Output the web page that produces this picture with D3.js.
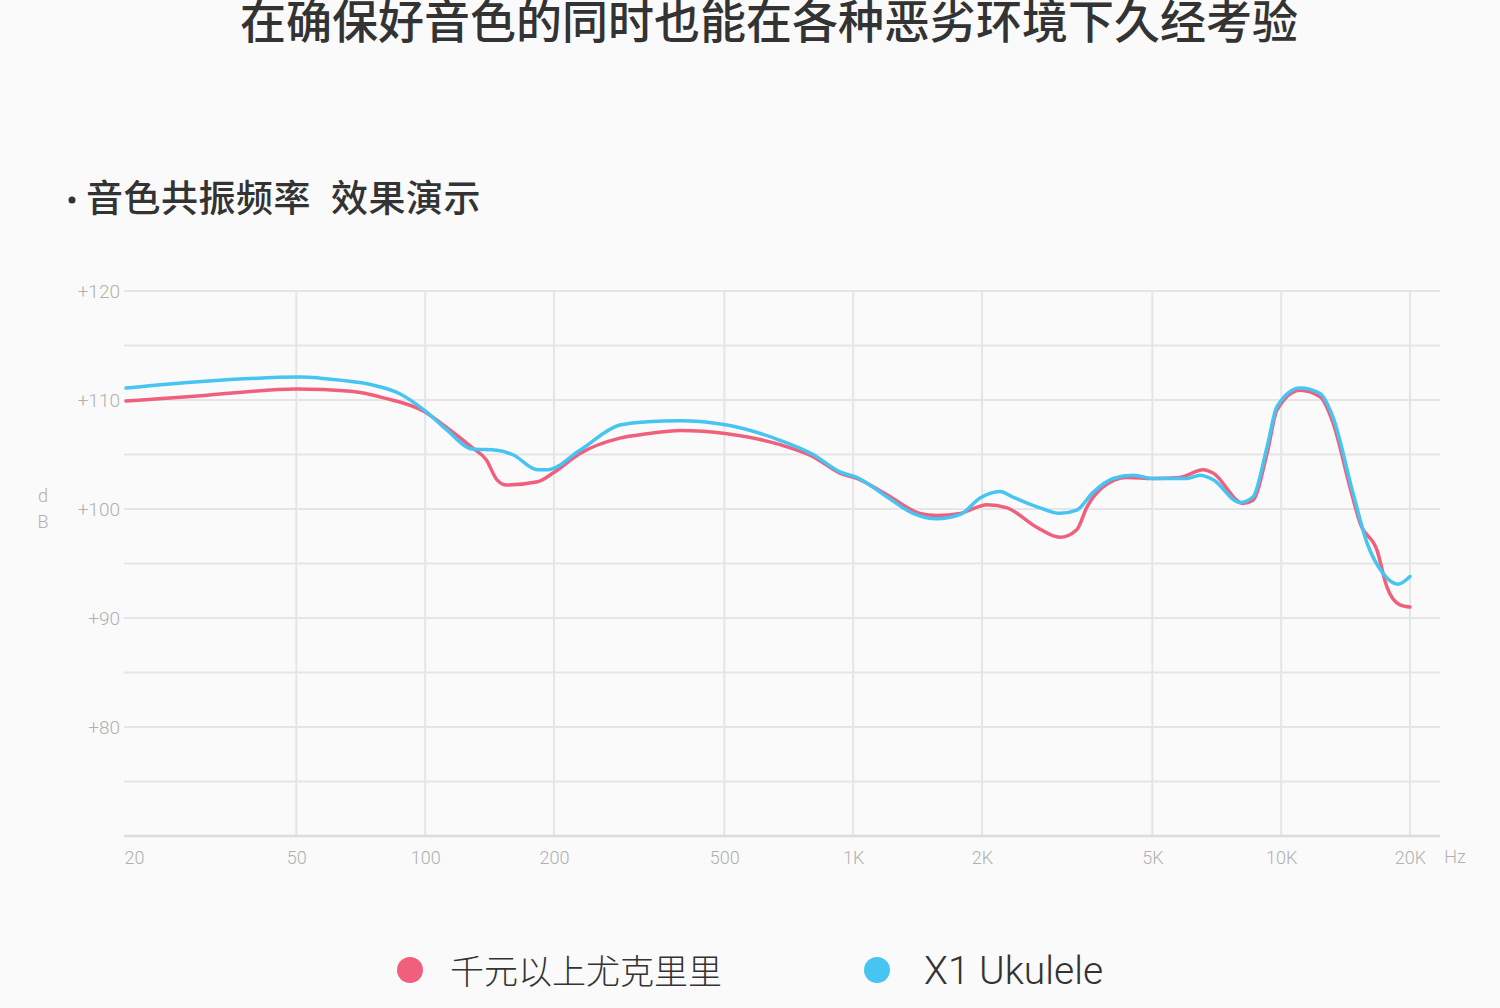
<!DOCTYPE html>
<html lang="zh">
<head>
<meta charset="UTF-8">
<title>音色共振频率 效果演示</title>
<style>
  body { margin: 0; overflow: hidden; background: #fafafa; }
  svg  { display: block; background: #fafafa; }

  .title    { font: 500 46px "Noto Sans CJK SC", sans-serif; fill: #333; text-anchor: middle; }
  .subtitle { font: 500 37px "Noto Sans CJK SC", sans-serif; fill: #333; letter-spacing: 0.5px; }
  .tick text { font: 300 18px Roboto, sans-serif; fill: #b0b0b0; }
  .y-axis .tick text { font-size: 19px; }
  .unit     { font: 300 18px Roboto, sans-serif; fill: #b0b0b0; }
  .grid line { stroke: #e5e5e5; stroke-width: 2; }
  .legend-cn { font: 300 34px "Noto Sans CJK SC", sans-serif; fill: #333; }
  .legend-en { font: 300 39px Roboto, sans-serif; fill: #333; }
</style>
</head>
<body>
<svg id="chart" width="1500" height="1008"></svg>

<script src="https://d3js.org/d3.v7.min.js"></script>
<script>
/* ---------------- Data ---------------- */
const xTicks   = [20, 50, 100, 200, 500, 1000, 2000, 5000, 10000, 20000];
const xLabels  = ['20', '50', '100', '200', '500', '1K', '2K', '5K', '10K', '20K'];
const yLabels  = [80, 90, 100, 110, 120];
const yGrid    = [75, 80, 85, 90, 95, 100, 105, 110, 115, 120];

// 千元以上尤克里里
const pinkFreq = [20, 30, 50, 67, 80, 100, 112, 129, 139, 147, 155, 183, 199, 230, 285, 330, 394, 507,
                  675, 806, 931, 1020, 1200, 1430, 1570, 1780, 2055, 2290, 2690, 3040, 3330, 3520, 3830,
                  4360, 5020, 5800, 6570, 6930, 8140, 8590, 9270, 9780, 11070, 12330, 13220, 14480,
                  15290, 16750, 17680, 18950, 20000];
const pinkDb   = [109.9, 110.4, 111.0, 110.8, 110.2, 108.9, 107.5, 105.6, 104.5, 102.7, 102.2, 102.5, 103.3, 105.1, 106.5, 106.9, 107.2, 106.9,
                  105.9, 104.8, 103.3, 102.8, 101.3, 99.6, 99.4, 99.6, 100.4, 100.1, 98.3, 97.4, 98.1, 100.2, 102.0,
                  102.9, 102.8, 102.9, 103.6, 103.3, 100.5, 100.8, 105.1, 109.1, 110.9, 110.3, 107.9, 102.0,
                  98.7, 96.2, 92.8, 91.2, 91.0];

// X1 Ukulele
const blueFreq = [20, 30, 51, 57, 64, 75, 87, 100, 112, 129, 147, 160, 183, 193, 230, 285, 330, 394, 507,
                  675, 806, 931, 1020, 1200, 1380, 1570, 1780, 1980, 2200, 2360, 2690, 3040, 3330, 3630, 4050,
                  4510, 5020, 6020, 6460, 6930, 8010, 8590, 9270, 9780, 11070, 12330, 13220, 14710, 15870,
                  17300, 18750, 20000];
const blueDb   = [111.1, 111.7, 112.1, 112.0, 111.8, 111.4, 110.6, 109.0, 107.3, 105.5, 105.4, 105.0, 103.6, 103.6, 105.4, 107.7, 108.0, 108.1, 107.7,
                  106.3, 105.0, 103.4, 102.9, 101.1, 99.6, 99.1, 99.5, 101.0, 101.6, 101.1, 100.2, 99.6, 99.9, 101.5, 102.8,
                  103.1, 102.8, 102.8, 103.1, 102.7, 100.6, 101.1, 105.7, 109.4, 111.1, 110.6, 108.4, 101.5, 96.9,
                  94.1, 93.1, 93.8];

const seriesNames  = ['千元以上尤克里里', 'X1 Ukulele'];
const seriesColors = ['#f0607c', '#46c4f2'];

/* ---------------- Layout ---------------- */
const svg = d3.select('#chart');
const plotLeft = 126, plotRight = 1410, gridRight = 1440;
const plotTop = 291, plotBottom = 836;

const x = d3.scaleLog().domain([20, 20000]).range([plotLeft, plotRight]);
const y = d3.scaleLinear().domain([70, 120]).range([plotBottom, plotTop]);

/* ---------------- Titles ---------------- */
svg.append('text').attr('class', 'title')
  .attr('x', 769).attr('y', 38)
  .text('在确保好音色的同时也能在各种恶劣环境下久经考验');

svg.append('circle').attr('cx', 72).attr('cy', 200).attr('r', 3.5).attr('fill', '#333');
svg.append('text').attr('class', 'subtitle')
  .attr('x', 86).attr('y', 212)
  .text('音色共振频率');
svg.append('text').attr('class', 'subtitle')
  .attr('x', 331).attr('y', 212)
  .text('效果演示');

/* ---------------- Grid ---------------- */
// horizontal lines every 5 dB
svg.append('g').attr('class', 'grid')
  .selectAll('line').data(yGrid).enter().append('line')
    .attr('x1', plotLeft - 2).attr('x2', gridRight)
    .attr('y1', d => y(d)).attr('y2', d => y(d));

// vertical lines at the labelled frequencies (not at 20)
svg.append('g').attr('class', 'grid')
  .selectAll('line').data(xTicks.slice(1)).enter().append('line')
    .attr('x1', d => x(d)).attr('x2', d => x(d))
    .attr('y1', plotTop).attr('y2', plotBottom);

// base line
svg.append('line')
  .attr('x1', plotLeft - 2).attr('x2', gridRight)
  .attr('y1', plotBottom).attr('y2', plotBottom)
  .attr('stroke', '#dcdcdc').attr('stroke-width', 2.5);

/* ---------------- Axes ---------------- */
const xAxis = svg.append('g')
  .attr('transform', `translate(0,${plotBottom + 12})`)
  .call(d3.axisBottom(x).tickValues(xTicks).tickSize(0)
          .tickFormat((d, i) => xLabels[i]));
xAxis.select('.domain').remove();
xAxis.selectAll('.tick text').attr('dy', '0.71em');
xAxis.selectAll('.tick').filter(d => d === 20).select('text').attr('dx', 8);

const yAxis = svg.append('g').attr('class', 'y-axis')
  .attr('transform', `translate(${plotLeft - 6},0)`)
  .call(d3.axisLeft(y).tickValues(yLabels).tickSize(0).tickPadding(0)
          .tickFormat(d => '+' + d));
yAxis.select('.domain').remove();

svg.append('text').attr('class', 'unit').attr('x', 1455).attr('y', 863)
  .attr('text-anchor', 'middle').text('Hz');
svg.append('text').attr('class', 'unit').attr('x', 43).attr('y', 502)
  .attr('text-anchor', 'middle').text('d');
svg.append('text').attr('class', 'unit').attr('x', 43).attr('y', 528)
  .attr('text-anchor', 'middle').text('B');

/* ---------------- Curves ---------------- */
const line = d3.line()
  .x(d => x(d[0]))
  .y(d => y(d[1]))
  .curve(d3.curveMonotoneX);

const series = [
  d3.zip(pinkFreq, pinkDb),
  d3.zip(blueFreq, blueDb)
];

svg.append('g').selectAll('path')
  .data(series).enter().append('path')
    .attr('d', line)
    .attr('fill', 'none')
    .attr('stroke', (d, i) => seriesColors[i])
    .attr('stroke-width', 3.5)
    .attr('stroke-linejoin', 'round')
    .attr('stroke-linecap', 'round');

/* ---------------- Legend ---------------- */
const legendX = [410, 877];
const legend = svg.append('g').selectAll('g')
  .data(seriesNames).enter().append('g')
    .attr('transform', (d, i) => `translate(${legendX[i]},970)`);

legend.append('circle').attr('r', 13).attr('fill', (d, i) => seriesColors[i]);
legend.append('text')
  .attr('class', (d, i) => i === 0 ? 'legend-cn' : 'legend-en')
  .attr('x', (d, i) => i === 0 ? 40 : 47)
  .attr('y', 14)
  .text(d => d);
</script>
</body>
</html>
